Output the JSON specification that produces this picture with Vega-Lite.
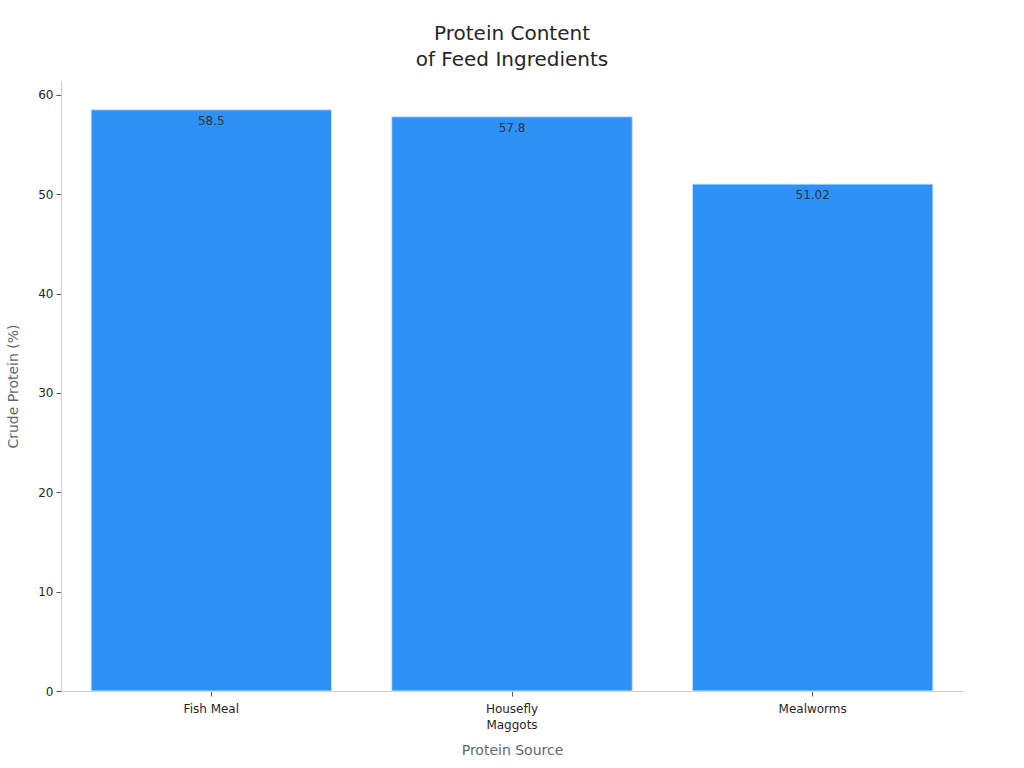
{
  "$schema": "https://vega.github.io/schema/vega-lite/v6.json",
  "autosize": {"type": "none"},
  "width": 902,
  "height": 610,
  "padding": {"left": 61, "top": 81, "right": 61, "bottom": 77},
  "title": {
    "text": ["Protein Content", "of Feed Ingredients"],
    "fontSize": 20,
    "font": "DejaVu Sans",
    "fontWeight": "normal",
    "color": "#262626",
    "lineHeight": 26,
    "anchor": "middle",
    "offset": 11
  },
  "config": {
    "view": {"stroke": null},
    "font": "DejaVu Sans"
  },
  "data": {
    "values": [
      {"source": "Fish Meal", "protein": 58.5, "label": "58.5"},
      {"source": "Housefly Maggots", "protein": 57.8, "label": "57.8"},
      {"source": "Mealworms", "protein": 51.02, "label": "51.02"}
    ]
  },
  "encoding": {
    "x": {
      "field": "source",
      "type": "nominal",
      "sort": null,
      "scale": {"paddingInner": 0.2, "paddingOuter": 0.1},
      "title": "Protein Source",
      "axis": {
        "labelAngle": 0,
        "labelFontSize": 12,
        "labelColor": "#262626",
        "labelExpr": "datum.label == 'Housefly Maggots' ? ['Housefly', 'Maggots'] : datum.label",
        "labelLineHeight": 16,
        "domainColor": "#cccccc",
        "tickColor": "#555555",
        "tickSize": 5,
        "labelPadding": 7,
        "titleFontSize": 14,
        "titleFontWeight": "normal",
        "titleColor": "#666666",
        "titlePadding": 13
      }
    },
    "y": {
      "field": "protein",
      "type": "quantitative",
      "scale": {"domain": [0, 61.4], "nice": false},
      "title": "Crude Protein (%)",
      "axis": {
        "values": [0, 10, 20, 30, 40, 50, 60],
        "grid": false,
        "labelFontSize": 12,
        "labelColor": "#262626",
        "domainColor": "#cccccc",
        "tickColor": "#555555",
        "tickSize": 5,
        "labelPadding": 3,
        "titleFontSize": 14,
        "titleFontWeight": "normal",
        "titleColor": "#666666",
        "titlePadding": 17
      }
    }
  },
  "layer": [
    {
      "mark": {"type": "bar", "color": "#2E91F8", "stroke": "#cfe3f7", "strokeWidth": 1}
    },
    {
      "mark": {"type": "text", "baseline": "top", "dy": 6, "fontSize": 12, "color": "#333333"},
      "encoding": {"text": {"field": "label"}}
    }
  ]
}
